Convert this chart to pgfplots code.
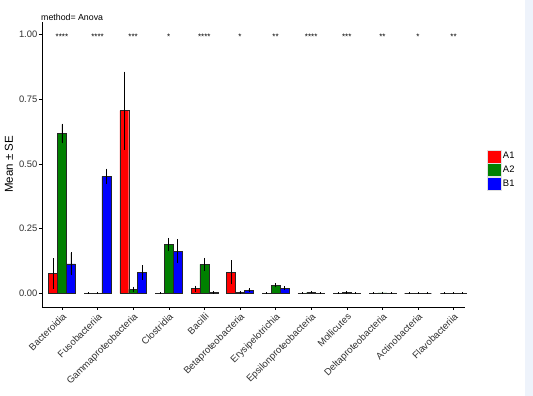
\documentclass[border=0pt]{standalone}
\usepackage{pgfplots}
\usepackage{pgfplotstable}
\pgfplotsset{compat=1.18}
\usepackage{fontspec}
\setmainfont{Liberation Sans}
\definecolor{cA1}{RGB}{255,0,0}
\definecolor{cA2}{RGB}{0,128,0}
\definecolor{cB1}{RGB}{0,0,255}
\definecolor{strip}{RGB}{238,243,251}
\definecolor{tickgrey}{RGB}{50,50,50}

\pgfplotstableread{
x  a1     a1e    a2     a2e    b1     b1e
0  0.076  0.057  0.618  0.035  0.114  0.041
1  0.000  0.000  0.000  0.000  0.452  0.027
2  0.706  0.148  0.015  0.008  0.080  0.025
3  0.001  0.000  0.189  0.022  0.163  0.043
4  0.018  0.009  0.112  0.022  0.004  0.002
5  0.081  0.043  0.004  0.002  0.012  0.004
6  0.001  0.000  0.031  0.005  0.020  0.005
7  0.001  0.000  0.004  0.001  0.001  0.000
8  0.001  0.000  0.003  0.001  0.001  0.000
9  0.001  0.000  0.002  0.001  0.001  0.000
10 0.000  0.000  0.001  0.000  0.000  0.000
11 0.000  0.000  0.000  0.000  0.000  0.000
}\datatable

\pgfplotstableread{
x  y    lab
0  1.0  ****
1  1.0  ****
2  1.0  ***
3  1.0  *
4  1.0  ****
5  1.0  *
6  1.0  **
7  1.0  ****
8  1.0  ***
9  1.0  **
10 1.0  *
11 1.0  **
}\startable

\begin{document}
\begin{tikzpicture}[x=1pt,y=1pt]
\useasboundingbox (0,0) rectangle (533,396);
\fill[white] (0,0) rectangle (533,396);
\fill[strip] (525,0) rectangle (533,396);
\node[anchor=base west, inner sep=0pt, font=\fontsize{8.8}{10}\selectfont] at (41,375.5) {method= Anova};
\begin{axis}[
  at={(42pt,89pt)}, anchor=south west,
  scale only axis,
  width=423pt, height=285.3pt,
  xmin=-0.56, xmax=11.32,
  ymin=-0.053, ymax=1.05,
  axis x line*=bottom, axis y line*=left,
  axis line style={line width=0.7pt, black},
  xtick={0,...,11},
  xticklabels={Bacteroidia,Fusobacteriia,Gammaproteobacteria,Clostridia,Bacilli,Betaproteobacteria,Erysipelotrichia,Epsilonproteobacteria,Mollicutes,Deltaproteobacteria,Actinobacteria,Flavobacteriia},
  x tick label style={rotate=45, anchor=north east, font=\fontsize{9.6}{11}\selectfont, text=tickgrey, inner sep=1.5pt},
  ytick={0,0.25,0.5,0.75,1},
  yticklabels={0.00,0.25,0.50,0.75,1.00},
  y tick label style={font=\fontsize{9.4}{11}\selectfont, text=tickgrey, inner sep=1.5pt},
  tick align=outside,
  major tick length=3pt,
  tick style={black, line width=0.5pt},
  xtick pos=bottom, ytick pos=left,
  ylabel={Mean ± SE},
  ylabel style={at={(axis description cs:-0.078,0.5)}, anchor=center, font=\fontsize{11.5}{13}\selectfont},
  legend style={at={(axis description cs:1.052,0.48)}, anchor=west, draw=none, fill=none,
    font=\fontsize{9.4}{11}\selectfont, row sep=0pt, inner sep=0pt},
  legend cell align=left,
  clip=false,
]
\addlegendimage{legend image code/.code={\draw[fill=cA1, draw=black!12, line width=0.5pt] (0pt,-6.6pt) rectangle (13.3pt,6.6pt);}}
\addlegendentry{A1}
\addlegendimage{legend image code/.code={\draw[fill=cA2, draw=black!12, line width=0.5pt] (0pt,-6.6pt) rectangle (13.3pt,6.6pt);}}
\addlegendentry{A2}
\addlegendimage{legend image code/.code={\draw[fill=cB1, draw=black!12, line width=0.5pt] (0pt,-6.6pt) rectangle (13.3pt,6.6pt);}}
\addlegendentry{B1}

\pgfplotsset{
  mybar/.style={ybar, bar width=0.25, bar shift=0pt, draw=black!85, line width=0.4pt, forget plot,
    error bars/y dir=both, error bars/y explicit,
    error bars/error bar style={line width=0.6pt, black},
    error bars/error mark options={mark size=0.8pt, line width=0.6pt, black}},
}
\addplot[mybar, fill=cA1] table[x expr=\thisrow{x}-0.25, y=a1, y error=a1e] {\datatable};
\addplot[mybar, fill=cA2] table[x expr=\thisrow{x}, y=a2, y error=a2e] {\datatable};
\addplot[mybar, fill=cB1] table[x expr=\thisrow{x}+0.25, y=b1, y error=b1e] {\datatable};

\addplot[only marks, mark=*, mark options={opacity=0}, forget plot,
  nodes near coords, point meta=explicit symbolic,
  every node near coord/.style={anchor=center, font=\fontsize{8}{9}\selectfont, inner sep=0pt, yshift=-2pt, text opacity=1}]
  table[x=x, y=y, meta=lab] {\startable};
\end{axis}
\end{tikzpicture}
\end{document}
